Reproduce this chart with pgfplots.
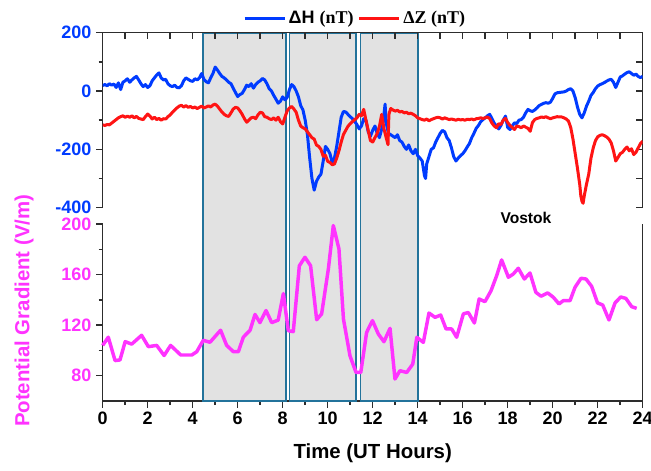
\documentclass[border=0pt]{standalone}
\usepackage{fontspec}
\setmainfont{Liberation Sans}
\newfontfamily\legserif{Liberation Serif}
\usepackage{pgfplots}
\pgfplotsset{compat=1.18}

\definecolor{hblue}{RGB}{0,59,255}
\definecolor{zred}{RGB}{255,20,20}
\definecolor{pgmag}{RGB}{255,51,255}
\definecolor{frameteal}{RGB}{35,115,155}
\definecolor{shade}{RGB}{226,226,226}
\definecolor{axisgray}{RGB}{45,45,45}

\pgfplotsset{
  panel/.style={
    scale only axis, width=405pt,
    xmin=0, xmax=24,
    axis line style={-, line width=1.1pt, color=axisgray},
    tick style={line width=1.1pt, color=axisgray},
    major tick length=5pt, minor tick length=3pt,
    ticklabel style={font=\fontsize{13.5}{16}\selectfont\bfseries},
  }
}

\begin{document}
\begin{tikzpicture}
\path[use as bounding box] (-77pt,-51.75pt) rectangle (411.2pt,300.75pt);

% ---------- lower panel: potential gradient ----------
\begin{axis}[panel,
  at={(0pt,0pt)}, anchor=south west, height=132.75pt,
  ymin=60, ymax=200, clip=false,
  axis x line*=bottom, axis y line*=left,
  tick align=outside,
  xtick={0,2,...,24}, minor xtick={1,3,...,23},
  xticklabels={0,2,4,6,8,10,12,14,16,18,20,22,24},
  ytick={80,120,160,200}, minor ytick={100,140,180},
  yticklabels={80,120,160,200},
  yticklabel style={color=pgmag},
  xlabel={Time (UT Hours)},
  xlabel style={at={(axis description cs:0.5,0)}, anchor=center, yshift=-39pt,
    font=\fontsize{15.3}{18}\selectfont\bfseries},
  ylabel={Potential Gradient (V/m)},
  ylabel style={at={(axis description cs:-0.1457,0.51)}, anchor=center,
    color=pgmag, font=\fontsize{15.3}{18}\selectfont\bfseries},
]
% disturbed intervals, spanning both panels
\addplot[fill=shade, draw=frameteal, line width=1.2pt, forget plot]
  coordinates {(4.45,60) (4.45,351.1) (8.15,351.1) (8.15,60)} -- cycle;
\addplot[fill=shade, draw=frameteal, line width=1.2pt, forget plot]
  coordinates {(8.3,60) (8.3,351.1) (11.25,351.1) (11.25,60)} -- cycle;
\addplot[fill=shade, draw=frameteal, line width=1.2pt, forget plot]
  coordinates {(11.45,60) (11.45,351.1) (14.0,351.1) (14.0,60)} -- cycle;

\addplot[pgmag, line width=2.6pt, line join=round] coordinates {
(0,104) (0.25,110.5) (0.55,92) (0.77,92.5) (1.0,107) (1.29,105) (1.73,112)
(2.03,103) (2.4,104) (2.73,96) (3.02,104) (3.47,96.4) (3.96,96.4) (4.18,99)
(4.47,108) (4.77,106.5) (5.24,116) (5.51,104) (5.81,99) (6.03,99) (6.25,110.5)
(6.55,116) (6.77,128.5) (6.99,122) (7.26,131.6) (7.51,122) (7.8,124) (8.03,145)
(8.25,115.6) (8.47,114.9) (8.74,167) (8.99,173.7) (9.24,167) (9.51,124.3)
(9.73,128.9) (10.03,164.5) (10.25,198.8) (10.5,180.3) (10.7,124.9) (10.99,95.8)
(11.26,82.6) (11.47,82.6) (11.73,114.3) (11.99,123.6) (12.25,113) (12.5,106.9)
(12.77,117.5) (12.99,77.4) (13.21,84) (13.51,82.6) (13.78,89.2) (13.96,110.4)
(14.25,106.4) (14.5,129.6) (14.77,126.2) (15.02,128) (15.26,117) (15.51,117)
(15.73,110.4) (16.03,129) (16.25,130) (16.52,121.7) (16.73,140.7) (16.99,138.6)
(17.26,147.3) (17.51,159.2) (17.73,171.6) (18.03,157.9) (18.25,160.5) (18.47,165)
(18.74,156.5) (18.99,161.3) (19.25,146) (19.48,142.9) (19.78,145.5) (20.03,142)
(20.28,136.8) (20.47,139.4) (20.77,139.4) (20.99,149.9) (21.26,157.1) (21.48,156.5)
(21.73,150.7) (21.99,137.6) (22.22,136) (22.5,124.1) (22.77,137.6) (23.02,142.3)
(23.25,141.2) (23.51,134.6) (23.73,133.3)
};
\draw[axisgray, line width=1.1pt] (rel axis cs:1,0) -- (rel axis cs:1,1);
\node[font=\fontsize{11.7}{14}\selectfont\bfseries] at (axis cs:18.81,204.7) {Vostok};
\end{axis}

% ---------- upper panel: top and right frame, inward ticks ----------
\begin{axis}[panel,
  at={(0pt,145pt)}, anchor=south west, height=131.25pt,
  ymin=-400, ymax=200,
  axis x line*=top, axis y line*=right,
  tick align=inside,
  xtick={0,1,...,24}, xticklabels={},
  ytick={-400,-300,...,200}, yticklabels={},
]
\end{axis}

% ---------- upper panel: magnetic field components ----------
\begin{axis}[panel,
  at={(0pt,145pt)}, anchor=south west, height=131.25pt,
  ymin=-400, ymax=200,
  hide x axis, axis y line*=left,
  tick align=outside,
  ytick={-400,-200,0,200}, minor ytick={-300,-100,100},
  yticklabels={-400,-200,0,200},
  yticklabel style={color=hblue},
  legend columns=2,
  legend style={draw=none, fill=none, at={(0.468,1)}, anchor=south, yshift=1pt,
    font=\fontsize{13.5}{15}\selectfont\bfseries,
    /tikz/every even column/.append style={column sep=1pt}},
  legend image code/.code={\draw[#1] (0pt,0pt) -- (30pt,0pt);},
]
\addplot[hblue, line width=2.25pt, line join=round] coordinates {
(0,19)(0.1,22)(0.2,18)(0.3,25)(0.4,20)(0.5,24)(0.6,12)(0.7,28)(0.8,5)(0.9,30)
(1.0,35)(1.1,42)(1.2,30)(1.3,38)(1.4,45)(1.5,50)(1.6,38)(1.7,25)(1.8,15)(1.9,22)
(2.0,12)(2.1,18)(2.2,35)(2.3,45)(2.4,55)(2.5,62)(2.6,45)(2.7,38)(2.8,40)(2.9,25)
(3.0,18)(3.1,15)(3.2,20)(3.3,12)(3.4,11)(3.5,18)(3.6,35)(3.7,45)(3.8,40)(3.9,35)
(4.0,33)(4.1,42)(4.2,38)(4.3,45)(4.4,60)(4.5,40)(4.6,32)(4.7,28)(4.8,45)(4.9,60)
(5.0,82)(5.1,72)(5.2,60)(5.3,50)(5.4,45)(5.5,38)(5.6,30)(5.7,25)(5.8,10)(5.9,-5)
(6.0,-19)(6.1,-12)(6.2,-8)(6.3,5)(6.4,20)(6.5,15)(6.6,25)(6.7,10)(6.8,22)(6.9,30)
(7.0,35)(7.1,43)(7.2,38)(7.3,25)(7.4,8)(7.5,0)(7.6,-15)(7.7,-28)(7.8,-42)(7.9,-35)
(8.0,-20)(8.1,-30)(8.2,-22)(8.3,5)(8.4,22)(8.5,15)(8.6,0)(8.7,-20)(8.8,-50)(8.9,-65)
(9.0,-100)(9.1,-150)(9.2,-230)(9.3,-300)(9.4,-340)(9.5,-310)(9.6,-295)(9.7,-285)(9.8,-240)(9.9,-190)
(10.0,-200)(10.1,-215)(10.2,-245)(10.3,-230)(10.4,-190)(10.5,-140)(10.6,-90)(10.7,-70)(10.8,-72)(10.9,-80)
(11.0,-88)(11.1,-95)(11.2,-105)(11.3,-115)(11.4,-130)(11.5,-120)(11.6,-95)(11.7,-100)(11.8,-140)(11.9,-155)
(12.0,-135)(12.1,-120)(12.2,-145)(12.3,-160)(12.4,-130)(12.5,-80)(12.55,-45)(12.6,-110)(12.7,-145)(12.8,-150)(12.9,-155)
(13.0,-160)(13.1,-150)(13.2,-170)(13.3,-175)(13.4,-190)(13.5,-200)(13.6,-185)(13.7,-205)(13.8,-215)(13.9,-200)
(14.0,-222)(14.1,-230)(14.2,-240)(14.3,-290)(14.35,-300)(14.4,-250)(14.5,-225)(14.6,-200)(14.7,-195)(14.8,-175)(14.9,-160)
(15.0,-145)(15.1,-135)(15.2,-140)(15.3,-160)(15.4,-170)(15.5,-195)(15.6,-225)(15.7,-240)(15.8,-230)(15.9,-222)
(16.0,-215)(16.1,-205)(16.2,-192)(16.3,-180)(16.4,-160)(16.5,-145)(16.6,-128)(16.7,-118)(16.8,-105)(16.9,-98)
(17.0,-92)(17.1,-85)(17.2,-80)(17.3,-95)(17.4,-110)(17.5,-120)(17.6,-130)(17.7,-118)(17.8,-100)(17.9,-86)
(18.0,-125)(18.1,-132)(18.2,-120)(18.3,-109)(18.4,-112)(18.5,-100)(18.6,-98)(18.7,-90)(18.8,-75)(18.9,-63)
(19.0,-68)(19.1,-70)(19.2,-65)(19.3,-58)(19.4,-50)(19.5,-46)(19.6,-42)(19.7,-40)(19.8,-42)(19.9,-38)
(20.0,-25)(20.1,-10)(20.2,-6)(20.3,-5)(20.4,-4)(20.5,-3)(20.6,0)(20.7,5)(20.8,8)(20.9,0)
(21.0,-23)(21.1,-55)(21.2,-80)(21.3,-92)(21.4,-75)(21.5,-52)(21.6,-35)(21.7,-15)(21.8,-5)(21.9,8)
(22.0,17)(22.1,22)(22.2,25)(22.3,29)(22.4,34)(22.5,38)(22.6,40)(22.7,30)(22.8,12)(22.9,30)
(23.0,48)(23.1,52)(23.2,58)(23.3,63)(23.4,66)(23.5,60)(23.6,54)(23.7,58)(23.8,50)(23.9,46)(24.0,50)
};
\addlegendentry{ΔH {\legserif(nT)}}
\addplot[zred, line width=2.25pt, line join=round] coordinates {
(0,-116)(0.1,-118)(0.2,-115)(0.3,-116)(0.4,-110)(0.5,-104)(0.6,-98)(0.7,-92)(0.8,-88)(0.9,-85)
(1.0,-90)(1.1,-86)(1.2,-90)(1.3,-85)(1.4,-92)(1.5,-87)(1.6,-94)(1.7,-96)(1.8,-98)(1.9,-88)
(2.0,-79)(2.1,-86)(2.2,-96)(2.3,-90)(2.4,-98)(2.5,-94)(2.6,-100)(2.7,-95)(2.8,-96)(2.9,-88)
(3.0,-82)(3.1,-73)(3.2,-65)(3.3,-58)(3.4,-52)(3.5,-49)(3.6,-55)(3.7,-50)(3.8,-56)(3.9,-53)
(4.0,-58)(4.1,-55)(4.2,-60)(4.3,-56)(4.4,-52)(4.5,-58)(4.6,-55)(4.7,-51)(4.8,-55)(4.9,-48)
(5.0,-45)(5.1,-52)(5.2,-62)(5.3,-72)(5.4,-80)(5.5,-85)(5.6,-87)(5.7,-75)(5.8,-62)(5.9,-56)
(6.0,-58)(6.1,-68)(6.2,-80)(6.3,-95)(6.4,-107)(6.5,-100)(6.6,-92)(6.7,-90)(6.8,-95)(6.9,-82)
(7.0,-73)(7.1,-75)(7.2,-88)(7.3,-90)(7.4,-95)(7.5,-98)(7.6,-92)(7.7,-100)(7.8,-90)(7.9,-105)
(8.0,-113)(8.1,-90)(8.2,-68)(8.3,-58)(8.4,-53)(8.5,-62)(8.6,-73)(8.7,-100)(8.8,-120)(8.9,-126)
(9.0,-130)(9.1,-140)(9.2,-150)(9.3,-160)(9.4,-165)(9.5,-185)(9.6,-190)(9.7,-200)(9.8,-224)(9.9,-220)
(10.0,-241)(10.1,-245)(10.2,-253)(10.3,-250)(10.4,-230)(10.5,-205)(10.6,-175)(10.7,-149)(10.8,-135)(10.9,-121)
(11.0,-112)(11.1,-105)(11.2,-98)(11.3,-92)(11.4,-80)(11.5,-85)(11.6,-63)(11.7,-100)(11.8,-135)(11.9,-170)
(12.0,-175)(12.1,-160)(12.2,-145)(12.3,-121)(12.4,-80)(12.5,-130)(12.6,-160)(12.68,-184)(12.72,-80)(12.8,-60)(12.9,-65)
(13.0,-69)(13.1,-66)(13.2,-72)(13.3,-70)(13.4,-75)(13.5,-73)(13.6,-78)(13.7,-76)(13.8,-80)(13.9,-85)
(14.0,-92)(14.1,-95)(14.2,-98)(14.3,-100)(14.4,-96)(14.5,-102)(14.6,-98)(14.7,-95)(14.8,-92)(14.9,-90)
(15.0,-92)(15.1,-96)(15.2,-92)(15.3,-95)(15.4,-98)(15.5,-96)(15.6,-98)(15.7,-100)(15.8,-97)(15.9,-99)
(16.0,-98)(16.1,-100)(16.2,-97)(16.3,-98)(16.4,-96)(16.5,-99)(16.6,-95)(16.7,-94)(16.8,-92)(16.9,-94)
(17.0,-92)(17.1,-89)(17.2,-95)(17.3,-110)(17.4,-120)(17.5,-126)(17.6,-112)(17.7,-115)(17.8,-100)(17.9,-94)
(18.0,-108)(18.1,-118)(18.2,-125)(18.3,-132)(18.4,-120)(18.5,-122)(18.6,-126)(18.7,-120)(18.8,-124)(18.9,-128)
(19.0,-138)(19.1,-108)(19.2,-98)(19.3,-94)(19.4,-92)(19.5,-89)(19.6,-91)(19.7,-88)(19.8,-92)(19.9,-95)
(20.0,-92)(20.1,-90)(20.2,-88)(20.3,-89)(20.4,-89)(20.5,-92)(20.6,-96)(20.7,-103)(20.8,-125)(20.9,-165)
(21.0,-215)(21.1,-265)(21.2,-320)(21.25,-360)(21.3,-378)(21.35,-385)(21.4,-360)(21.5,-320)(21.6,-285)(21.7,-230)(21.8,-195)(21.9,-170)
(22.0,-157)(22.1,-152)(22.2,-150)(22.3,-153)(22.4,-158)(22.5,-165)(22.6,-178)(22.7,-205)(22.8,-240)(22.9,-228)
(23.0,-215)(23.1,-210)(23.2,-200)(23.3,-192)(23.4,-205)(23.5,-198)(23.6,-218)(23.7,-210)(23.8,-195)(23.9,-180)(24.0,-172)
};
\addlegendentry{{\legserif ΔZ (nT)}}
\end{axis}
\end{tikzpicture}
\end{document}
